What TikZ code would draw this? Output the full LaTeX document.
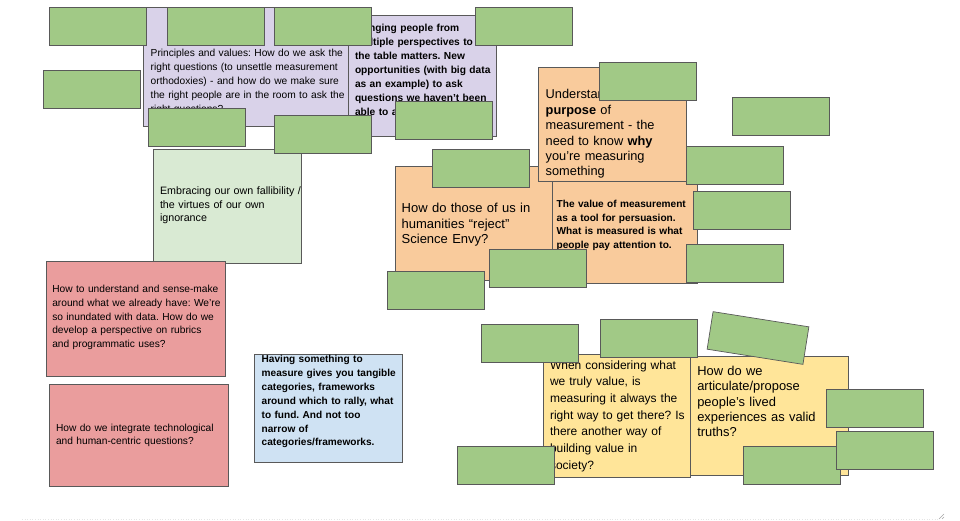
\documentclass[tikz,border=0pt]{standalone}
\usepackage{fontspec}
\setmainfont{Liberation Sans}
\definecolor{pur}{HTML}{D9D2E9}
\definecolor{org}{HTML}{F9CB9C}
\definecolor{lgr}{HTML}{D9EAD3}
\definecolor{rednote}{HTML}{EA9D9D}
\definecolor{blu}{HTML}{CFE2F3}
\definecolor{yel}{HTML}{FFE599}
\definecolor{grn}{HTML}{A1C986}
\definecolor{bd}{HTML}{595959}
\newcommand\gbox[3]{\node[greenbox] (#1) at (#2,#3) {};}
\frenchspacing
\begin{document}
\frenchspacing
\begin{tikzpicture}[x=1pt,y=-1pt,
  notebox/.style={draw=bd, line width=0.7pt, anchor=north west, inner sep=0pt, outer sep=0pt},
  greenbox/.style={notebox, fill=grn, minimum width=97pt, minimum height=38pt},
  txt/.style={anchor=base west, inner sep=0pt, outer sep=0pt, text width=200pt, align=left}]
\useasboundingbox (0,0) rectangle (960,520);
\fill[white] (0,0) rectangle (960,520);

% purple notes
\node[notebox, fill=pur, minimum width=205pt, minimum height=119pt] (p1) at (143,7) {};
\node[txt, font={\fontsize{10.2}{14}\selectfont}] (p1t) at (150.7,56.8)
 {Principles and values: How do we ask the\\right questions (to unsettle measurement\\orthodoxies) - and how do we make sure\\the right people are in the room to ask the\\right questions?};
\node[notebox, fill=pur, minimum width=148pt, minimum height=121pt] (p2) at (348,15) {};
\node[txt, font={\bfseries\fontsize{10.2}{14}\selectfont}] (p2t) at (355,31.8)
 {Bringing people from\\multiple perspectives to\\the table matters. New\\opportunities (with big data\\as an example) to ask\\questions we haven't been\\able to ask before.};

% light green note
\node[notebox, fill=lgr, minimum width=148pt, minimum height=114pt] (lg) at (153,149) {};
\node[txt, font={\fontsize{10.7}{13.7}\selectfont}] (lgt) at (160,194.5)
 {Embracing our own fallibility /\\the virtues of our own\\ignorance};

% orange notes
\node[notebox, fill=org, minimum width=157pt, minimum height=114pt] (oB) at (395,166) {};
\node[txt, font={\fontsize{13}{15.4}\selectfont}] (oBt) at (401.7,212.8)
 {How do those of us in\\humanities “reject”\\Science Envy?};
\node[notebox, fill=org, minimum width=148pt, minimum height=114pt] (oA) at (538,67) {};
\node[txt, font={\fontsize{12.8}{15.4}\selectfont}] (oAt) at (545.7,98.8)
 {Understanding the\\\textbf{purpose} of\\measurement - the\\need to know \textbf{why}\\you're measuring\\something};
\node[notebox, fill=org, minimum width=145pt, minimum height=102pt] (oC) at (552,181) {};
\node[txt, font={\bfseries\fontsize{10.1}{13.7}\selectfont}] (oCt) at (556.7,207.5)
 {The value of measurement\\as a tool for persuasion.\\What is measured is what\\people pay attention to.};

% red notes
\node[notebox, fill=rednote, minimum width=179pt, minimum height=115pt] (r1) at (46,261) {};
\node[txt, font={\fontsize{10.2}{13.8}\selectfont}] (r1t) at (52.3,292.5)
 {How to understand and sense-make\\around what we already have: We're\\so inundated with data. How do we\\develop a perspective on rubrics\\and programmatic uses?};
\node[notebox, fill=rednote, minimum width=179pt, minimum height=102pt] (r2) at (49,384) {};
\node[txt, font={\fontsize{10.2}{12.4}\selectfont}] (r2t) at (56,431.8)
 {How do we integrate technological\\and human-centric questions?};

% blue note
\node[notebox, fill=blu, minimum width=148pt, minimum height=108pt] (bl) at (254,354) {};
\node[txt, font={\bfseries\fontsize{10.1}{13.9}\selectfont}] (blt) at (261.7,362.5)
 {Having something to\\measure gives you tangible\\categories, frameworks\\around which to rally, what\\to fund. And not too\\narrow of\\categories/frameworks.};

% yellow notes
\node[notebox, fill=yel, minimum width=158pt, minimum height=119pt] (yE) at (690,356) {};
\node[txt, font={\fontsize{12.9}{15.4}\selectfont}] (yEt) at (697.3,375.2)
 {How do we\\articulate/propose\\people's lived\\experiences as valid\\truths?};
\node[notebox, fill=yel, minimum width=147pt, minimum height=123pt] (yD) at (543,354) {};
\node[txt, font={\fontsize{12}{16.7}\selectfont}] (yDt) at (550,369)
 {When considering what\\we truly value, is\\measuring it always the\\right way to get there? Is\\there another way of\\building value in\\society?};

% green rectangles
\gbox{g1}{49}{7}
\gbox{g2}{167}{7}
\gbox{g3}{274}{7}
\gbox{g4}{475}{7}
\gbox{g5}{43}{70}
\gbox{g6}{148}{108}
\gbox{g7}{274}{115}
\gbox{g8}{395}{101}
\gbox{g9}{432}{149}
\gbox{g10}{599}{62}
\gbox{g11}{732}{97}
\gbox{g12}{686}{146}
\gbox{g13}{693}{191}
\gbox{g14}{686}{244}
\gbox{g15}{489}{249}
\gbox{g16}{387}{271}
\gbox{g17}{481}{324}
\gbox{g18}{600}{319}
\node[greenbox, anchor=center, rotate=-9] (g19) at (758,338) {};
\gbox{g20}{457}{446}
\gbox{g21}{743}{446}
\gbox{g22}{826}{389}
\gbox{g23}{836}{431}

% page edge and resize grip
\draw[gray!20, dotted, line width=0.6pt] (22,519) -- (938,519);
\draw[gray!70, line width=0.5pt] (939,519) -- (944,514) (942,519) -- (944,517);
\end{tikzpicture}
\end{document}
